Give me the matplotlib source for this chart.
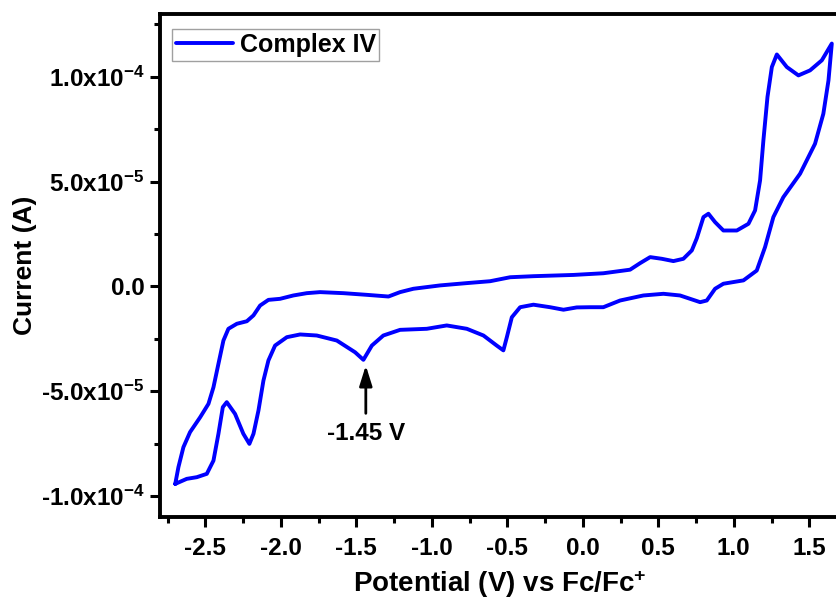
import numpy as np
import matplotlib
matplotlib.use("Agg")
import matplotlib.pyplot as plt
from matplotlib.ticker import FixedLocator, FixedFormatter, MultipleLocator

plt.rcParams['font.family'] = ['Liberation Sans', 'DejaVu Sans']
plt.rcParams['mathtext.fontset'] = 'custom'
plt.rcParams['mathtext.rm'] = 'Liberation Sans:bold'
plt.rcParams['mathtext.bf'] = 'Liberation Sans:bold'
plt.rcParams['mathtext.default'] = 'bf'

# Forward (anodic) sweep: potential (V) and current (1e-5 A)
fwd_E = [-2.699, -2.678, -2.645, -2.601, -2.534, -2.479, -2.446, -2.413, -2.380,
         -2.347, -2.291, -2.225, -2.181, -2.137, -2.082, -2.005, -1.917, -1.828,
         -1.740, -1.585, -1.430, -1.287, -1.21, -1.122, -0.945, -0.768, -0.614,
         -0.481, -0.327, -0.195, -0.062, 0.136, 0.313, 0.379, 0.446, 0.523,
         0.600, 0.666, 0.722, 0.755, 0.799, 0.832, 0.876, 0.931, 1.020, 1.097,
         1.141, 1.174, 1.196, 1.223, 1.252, 1.285, 1.351, 1.428, 1.505, 1.583,
         1.649]
fwd_I = [-9.42, -8.62, -7.67, -6.95, -6.24, -5.60, -4.81, -3.69, -2.58,
         -2.02, -1.78, -1.66, -1.38, -0.91, -0.64, -0.59, -0.43, -0.32,
         -0.27, -0.32, -0.40, -0.48, -0.27, -0.11, 0.05, 0.16, 0.25,
         0.44, 0.49, 0.52, 0.55, 0.63, 0.80, 1.11, 1.40, 1.32,
         1.21, 1.32, 1.72, 2.30, 3.31, 3.47, 3.07, 2.67, 2.67, 2.99,
         3.63, 5.06, 6.97, 9.04, 10.47, 11.07, 10.47, 10.07, 10.31, 10.79,
         11.59]

# Reverse (cathodic) sweep
rev_E = [1.649, 1.627, 1.593, 1.538, 1.439, 1.328, 1.262, 1.207, 1.152, 1.064,
         0.931, 0.876, 0.821, 0.777, 0.744, 0.644, 0.534, 0.401, 0.247, 0.136,
         0.048, -0.040, -0.128, -0.217, -0.327, -0.415, -0.470, -0.503, -0.526,
         -0.570, -0.658, -0.768, -0.901, -1.033, -1.21, -1.321, -1.397, -1.453,
         -1.508, -1.629, -1.762, -1.872, -1.96, -2.038, -2.082, -2.115, -2.148,
         -2.181, -2.208, -2.248, -2.303, -2.358, -2.384, -2.413, -2.446, -2.490,
         -2.556, -2.623, -2.699]
rev_I = [11.59, 9.83, 8.24, 6.81, 5.38, 4.26, 3.31, 1.88, 0.76, 0.29,
         0.13, -0.11, -0.67, -0.75, -0.67, -0.43, -0.35, -0.43, -0.67, -0.99,
         -0.99, -1.0, -1.11, -0.99, -0.87, -0.99, -1.47, -2.42, -3.05,
         -2.82, -2.34, -2.02, -1.86, -2.02, -2.07, -2.34, -2.82, -3.50,
         -3.14, -2.58, -2.34, -2.29, -2.42, -2.82, -3.53, -4.49, -5.92,
         -7.03, -7.51, -7.03, -6.08, -5.52, -5.76, -7.03, -8.31, -8.94,
         -9.10, -9.18, -9.42]

x_ticks = [-2.5, -2.0, -1.5, -1.0, -0.5, 0.0, 0.5, 1.0, 1.5]
x_labels = ['-2.5', '-2.0', '-1.5', '-1.0', '-0.5', '0.0', '0.5', '1.0', '1.5']
y_ticks = [-1.0e-4, -5.0e-5, 0.0, 5.0e-5, 1.0e-4]
y_labels = [r'-1.0x10$^{-4}$', r'-5.0x10$^{-5}$', '0.0', r'5.0x10$^{-5}$', r'1.0x10$^{-4}$']

E = np.array(fwd_E + rev_E[1:])
I = np.array(fwd_I + rev_I[1:]) * 1e-5

fig = plt.figure(figsize=(8.37, 6.01), dpi=100)
ax = fig.add_axes([160/837, 1 - 517/601, 679.5/837, (517-14)/601])
ax.plot(E, I, color='#0000ff', lw=2.8, label='Complex IV',
        solid_joinstyle='round', solid_capstyle='round')

ax.set_xlim(-2.8, 1.7)
ax.set_ylim(-1.1e-4, 1.3e-4)
ax.xaxis.set_major_locator(FixedLocator(x_ticks))
ax.xaxis.set_major_formatter(FixedFormatter(x_labels))
ax.xaxis.set_minor_locator(MultipleLocator(0.25))
ax.yaxis.set_major_locator(FixedLocator(y_ticks))
ax.yaxis.set_major_formatter(FixedFormatter(y_labels))
ax.yaxis.set_minor_locator(MultipleLocator(2.5e-5))

for s in ax.spines.values():
    s.set_linewidth(2.8)
ax.tick_params(which='major', direction='out', length=7, width=2.2, labelsize=17.5,
               pad=4, top=False, right=False)
ax.tick_params(which='minor', direction='out', length=4.5, width=2.2, top=False, right=False)
ax.tick_params(axis='x', which='major', pad=7.5)
for lab in ax.get_xticklabels() + ax.get_yticklabels():
    lab.set_fontweight('bold')

ax.set_xlabel(r'Potential (V) vs Fc/Fc$^{+}$', fontsize=20, fontweight='bold', labelpad=6)
ax.set_ylabel('Current (A)', fontsize=19, fontweight='bold', labelpad=2.5)

ax.annotate('-1.45 V', xy=(-1.437, -0.377e-4), xytext=(-1.437, -0.70e-4),
            ha='center', va='center', fontsize=17.5, fontweight='bold',
            arrowprops=dict(arrowstyle='-|>,head_width=0.22,head_length=0.7',
                            color='black', lw=2.0, shrinkA=4, shrinkB=0))

leg = ax.legend(loc='upper left', bbox_to_anchor=(0.0177, 0.970), fontsize=18,
                frameon=True, fancybox=False, handlelength=2.3, borderpad=0.15,
                handletextpad=0.25, borderaxespad=0.0)
leg.get_frame().set_edgecolor('#888888')
leg.get_frame().set_linewidth(1.0)
for t in leg.get_texts():
    t.set_fontweight('bold')

fig.savefig('out.png', dpi=100)
